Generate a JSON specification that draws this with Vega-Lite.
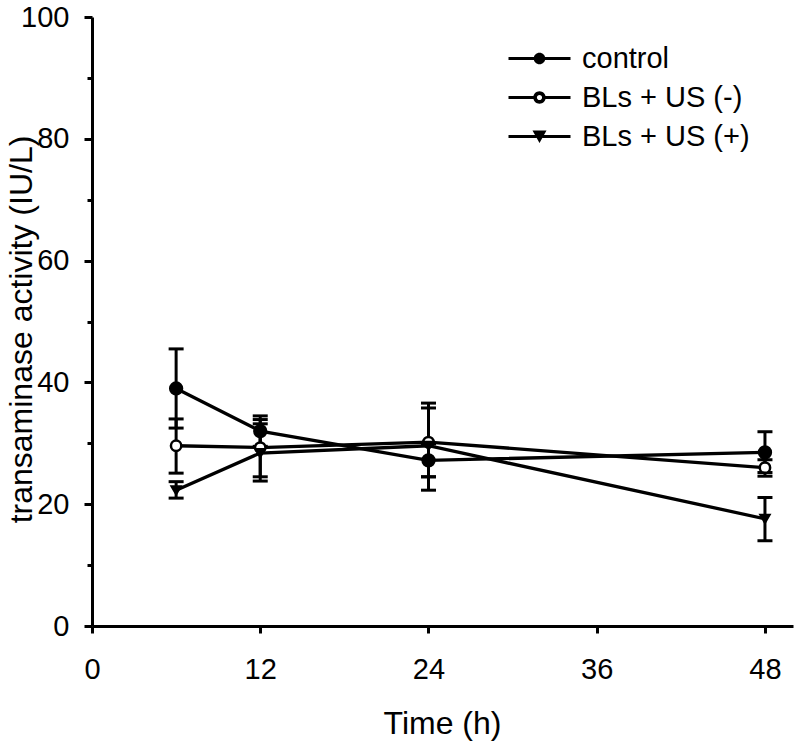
{
  "$schema": "https://vega.github.io/schema/vega-lite/v6.json",
  "autosize": {"type": "none"},
  "width": 701,
  "height": 609,
  "padding": {"left": 92, "top": 17, "right": 7, "bottom": 118},
  "background": "white",
  "config": {
    "view": {"stroke": null},
    "font": "Liberation Sans",
    "axis": {"domainColor": "black", "domainWidth": 3, "tickColor": "black", "tickWidth": 3, "labelColor": "black", "titleColor": "black", "grid": false, "labelFont": "Liberation Sans", "titleFont": "Liberation Sans", "titleFontWeight": "normal"},
    "legend": {"labelFont": "Liberation Sans", "labelColor": "black"}
  },
  "data": {"values": [
    {"g": "control", "t": 6, "v": 39.0, "lo": 32.5, "hi": 45.5},
    {"g": "control", "t": 12, "v": 32.0, "lo": 29.5, "hi": 34.5},
    {"g": "control", "t": 24, "v": 27.2, "lo": 24.5, "hi": 29.9},
    {"g": "control", "t": 48, "v": 28.5, "lo": 25.2, "hi": 31.9},
    {"g": "BLs + US (-)", "t": 6, "v": 29.6, "lo": 25.1, "hi": 34.0},
    {"g": "BLs + US (-)", "t": 12, "v": 29.3, "lo": 24.5, "hi": 33.9},
    {"g": "BLs + US (-)", "t": 24, "v": 30.2, "lo": 24.5, "hi": 36.6},
    {"g": "BLs + US (-)", "t": 48, "v": 26.0, "lo": 24.6, "hi": 27.3},
    {"g": "BLs + US (+)", "t": 6, "v": 22.3, "lo": 21.0, "hi": 23.7},
    {"g": "BLs + US (+)", "t": 12, "v": 28.4, "lo": 23.8, "hi": 33.2},
    {"g": "BLs + US (+)", "t": 24, "v": 29.6, "lo": 22.3, "hi": 35.8},
    {"g": "BLs + US (+)", "t": 48, "v": 17.6, "lo": 14.0, "hi": 21.1}
  ]},
  "encoding": {
    "x": {"field": "t", "type": "quantitative", "scale": {"domain": [0, 50], "nice": false, "zero": false},
      "axis": {"values": [0, 12, 24, 36, 48], "title": "Time (h)", "labelFontSize": 29, "titleFontSize": 32, "tickSize": 7, "labelBaseline": "alphabetic", "labelPadding": 45, "labelDx": 3, "labelFlush": false, "titleX": 350, "titleY": 107, "titleBaseline": "alphabetic", "titleAlign": "center"}},
    "y": {"field": "v", "type": "quantitative", "scale": {"domain": [0, 100], "nice": false}, "axis": null}
  },
  "layer": [
    {
      "mark": {"type": "line", "color": "black", "strokeWidth": 3.3},
      "encoding": {
        "y": {"field": "v", "type": "quantitative",
          "axis": {"orient": "left", "values": [0, 20, 40, 60, 80, 100], "title": "transaminase activity (IU/L)", "labelFontSize": 29, "titleFontSize": 32, "tickSize": 8, "labelPadding": 15, "labelFlush": false, "titleX": -71, "titleY": 312, "titleAngle": 270, "titleBaseline": "middle", "titleAlign": "center"}},
        "detail": {"field": "g", "type": "nominal"}, "order": {"field": "t", "type": "quantitative"}}
    },
    {
      "mark": {"type": "rule", "color": "black", "strokeWidth": 3},
      "encoding": {
        "y": {"field": "lo", "type": "quantitative",
          "axis": {"orient": "left", "values": [10, 30, 50, 70, 90], "labels": false, "domain": false, "title": null, "tickSize": 5, "grid": false}},
        "y2": {"field": "hi"}}
    },
    {
      "mark": {"type": "tick", "orient": "horizontal", "color": "black", "opacity": 1, "size": 15, "thickness": 3},
      "encoding": {"y": {"field": "lo", "type": "quantitative", "axis": null}}
    },
    {
      "mark": {"type": "tick", "orient": "horizontal", "color": "black", "opacity": 1, "size": 15, "thickness": 3},
      "encoding": {"y": {"field": "hi", "type": "quantitative", "axis": null}}
    },
    {
      "mark": {"type": "point", "filled": true, "stroke": "black", "strokeWidth": 2.5, "opacity": 1},
      "encoding": {
        "shape": {"field": "g", "type": "nominal", "scale": {"domain": ["control", "BLs + US (-)", "BLs + US (+)"], "range": ["circle", "circle", "triangle-down"]}, "legend": null},
        "fill": {"field": "g", "type": "nominal", "scale": {"domain": ["control", "BLs + US (-)", "BLs + US (+)"], "range": ["black", "white", "black"]}, "legend": null},
        "size": {"field": "g", "type": "nominal", "scale": {"domain": ["control", "BLs + US (-)", "BLs + US (+)"], "range": [140, 75, 200]}, "legend": null}
      }
    },
    {
      "mark": {"type": "point", "filled": true, "color": "black", "opacity": 0, "size": 400},
      "encoding": {
        "shape": {"field": "g", "type": "nominal",
          "scale": {"domain": ["control", "BLs + US (-)", "BLs + US (+)"], "range": [
            "M-3.1,-0.15H-0.4V0.15H-3.1ZM0.4,-0.15H3.1V0.15H0.4ZM0.58,0A0.58,0.58,0,1,1,-0.58,0A0.58,0.58,0,1,1,0.58,0Z",
            "M-3.1,-0.15H-0.6V0.15H-3.1ZM0.6,-0.15H3.1V0.15H0.6ZM0.62,0A0.62,0.62,0,1,1,-0.62,0A0.62,0.62,0,1,1,0.62,0ZM0.26,0A0.26,0.26,0,1,0,-0.26,0A0.26,0.26,0,1,0,0.26,0Z",
            "M-3.1,-0.15H-0.3V0.15H-3.1ZM0.3,-0.15H3.1V0.15H0.3ZM-0.7,-0.6L0.7,-0.6L0,0.65Z"
          ]},
          "legend": {"title": null, "orient": "none", "legendX": 433, "legendY": 27, "padding": 0, "symbolSize": 400, "symbolOpacity": 1, "symbolFillColor": "black", "symbolStrokeWidth": 0, "labelFontSize": 29, "labelOffset": 28, "labelLimit": 400, "rowPadding": 9, "labelColor": "black"}
        }
      }
    }
  ],
  "resolve": {"scale": {"shape": "independent"}, "axis": {"y": "independent"}}
}
